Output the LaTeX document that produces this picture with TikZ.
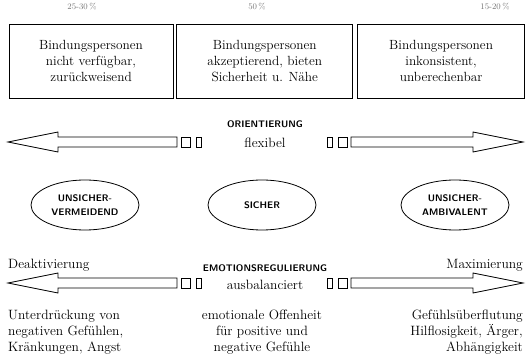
\documentclass[tikz,border=0pt]{standalone}
\usepackage{tikz}
\usetikzlibrary{shapes.geometric, positioning}
\tikzstyle{personbox} = [rectangle, draw=black, line width=0.8pt, minimum height=74pt, text centered, align=center, font=\fontsize{13.3}{16}\selectfont]
\tikzstyle{bondtype} = [ellipse, draw=black, line width=0.8pt, minimum width=108pt, minimum height=50pt, inner sep=0pt, align=center, font=\sffamily\bfseries\fontsize{9.5}{14.5}\selectfont]
\tikzstyle{heading} = [inner sep=0pt, font=\sffamily\bfseries\fontsize{9.5}{11}\selectfont]
\tikzstyle{plain} = [inner sep=0pt, font=\fontsize{13.5}{16}\selectfont]
\tikzstyle{share} = [inner sep=0pt, text=black!55, font=\fontsize{8.5}{10}\selectfont]
\tikzstyle{bigarrow} = [draw=black, line width=0.8pt, line join=miter]

\begin{document}
\begin{tikzpicture}[x=1pt, y=-1pt, node distance=3pt]
\useasboundingbox (0,0) rectangle (528,363);

% Anteile
\node (pa) [share] at (82,7) {25-30\,\%};
\node (pb) [share] at (257,7) {50\,\%};
\node (pc) [share] at (495,7) {15-20\,\%};

% Bindungspersonen
\node (avoid) [personbox, minimum width=164pt] at (91,61) {Bindungspersonen\\nicht verfügbar,\\zurückweisend};
\node (secure) [personbox, minimum width=176pt, right=of avoid] {Bindungspersonen\\akzeptierend, bieten\\Sicherheit u. Nähe};
\node (ambi) [personbox, minimum width=167pt, right=4pt of secure] {Bindungspersonen\\inkonsistent,\\unberechenbar};

% Orientierung
\node (orient) [heading] at (265,124) {ORIENTIERUNG};
\node (flex) [plain] at (265,143) {flexibel};
\draw [bigarrow] (8,142) -- (58,132) -- (58,137) -- (177,137) -- (177,147) -- (58,147) -- (58,152) -- cycle;
\draw [bigarrow] (181,137) rectangle (190,147);
\draw [bigarrow] (196,137) rectangle (201,147);
\draw [bigarrow] (327,137) rectangle (332,147);
\draw [bigarrow] (338,137) rectangle (347,147);
\draw [bigarrow] (351,137) -- (473,137) -- (473,132) -- (523,142) -- (473,152) -- (473,147) -- (351,147) -- cycle;

% Bindungstypen
\node (tavoid) [bondtype] at (85,205) {UNSICHER-\\VERMEIDEND};
\node (tsecure) [bondtype] at (262,205) {SICHER};
\node (tambi) [bondtype] at (455,205) {UNSICHER-\\AMBIVALENT};

% Emotionsregulierung
\node (deact) [plain, anchor=west] at (8,265) {Deaktivierung};
\node (maxim) [plain, anchor=east] at (523,265) {Maximierung};
\node (emot) [heading] at (265,268) {EMOTIONSREGULIERUNG};
\node (balance) [plain] at (265,285) {ausbalanciert};
\draw [bigarrow] (8,283) -- (58,273) -- (58,278) -- (177,278) -- (177,288) -- (58,288) -- (58,293) -- cycle;
\draw [bigarrow] (181,278) rectangle (190,288);
\draw [bigarrow] (196,278) rectangle (201,288);
\draw [bigarrow] (327,278) rectangle (332,288);
\draw [bigarrow] (338,278) rectangle (347,288);
\draw [bigarrow] (351,278) -- (473,278) -- (473,273) -- (523,283) -- (473,293) -- (473,288) -- (351,288) -- cycle;

\node (suppress) [plain, anchor=north west, align=left] at (8,310) {Unterdrückung von\\negativen Gefühlen,\\Kränkungen, Angst};
\node (open) [plain, anchor=north, align=center] at (262,310) {emotionale Offenheit\\für positive und\\negative Gefühle};
\node (flood) [plain, anchor=north east, align=right] at (523,310) {Gefühlsüberflutung\\Hilflosigkeit, Ärger,\\Abhängigkeit};
\end{tikzpicture}
\end{document}
